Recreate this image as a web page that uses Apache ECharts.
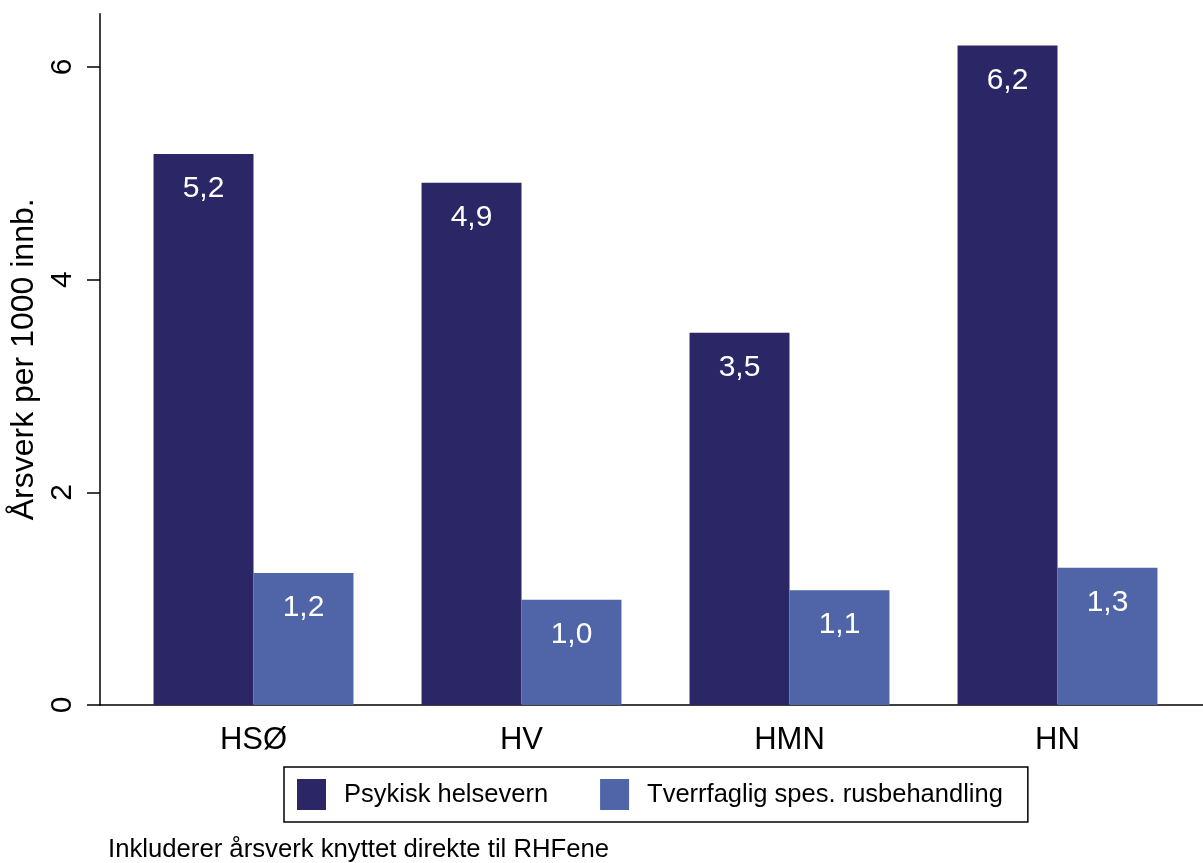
<!DOCTYPE html>
<html>
<head>
<meta charset="utf-8">
<script src="https://cdn.jsdelivr.net/npm/echarts@6/dist/echarts.min.js"></script>
<style>
html,body{margin:0;padding:0;background:#fff;}
#chart{width:1203px;height:863px;}
</style>
</head>
<body>
<div id="chart"></div>
<script>
const categories = ['HSØ', 'HV', 'HMN', 'HN'];
const seriesNames = ['Psykisk helsevern', 'Tverrfaglig spes. rusbehandling'];
const psykisk = [5.18, 4.91, 3.5, 6.2];
const rus = [1.24, 0.99, 1.08, 1.29];
const yTicks = [0, 2, 4, 6];
const yName = 'Årsverk per 1000 innb.';
const note = 'Inkluderer årsverk knyttet direkte til RHFene';

const FONT = '"Liberation Sans", Arial, Helvetica, sans-serif';
const dark = '#2b2767';
const light = '#5065a8';
const yMin = 0, yMax = 6.5, yInt = 2;

const chart = echarts.init(document.getElementById('chart'), null, {renderer: 'canvas'});
const fmt = p => p.value.toFixed(1).replace('.', ',');
const label = {show: true, position: 'insideTop', distance: 20, color: '#fff', fontSize: 30, fontFamily: FONT};

chart.setOption({
  backgroundColor: '#fff',
  animation: false,
  textStyle: {fontFamily: FONT},
  title: {
    text: note, left: 108, top: 837,
    textStyle: {fontSize: 25.7, fontWeight: 'normal', color: '#000', fontFamily: FONT},
    padding: 0
  },
  legend: {
    data: seriesNames,
    left: 284, top: 767,
    padding: [12, 25, 12, 13],
    itemWidth: 29, itemHeight: 31, itemGap: 52,
    borderColor: '#000', borderWidth: 1.5,
    icon: 'rect',
    textStyle: {fontSize: 25.5, color: '#000', fontFamily: FONT, padding: [0, 0, 0, 13]}
  },
  grid: [
    {left: 100, right: 0, top: 13.7, bottom: 158, outerBoundsMode: 'none', containLabel: false},
    {left: 119.5, right: 11.5, top: 13.7, bottom: 158, outerBoundsMode: 'none', containLabel: false}
  ],
  xAxis: [
    {gridIndex: 0, type: 'value', min: 0, max: 1,
     axisLine: {show: true, onZero: false, lineStyle: {color: '#000', width: 1.5}},
     axisTick: {show: false}, axisLabel: {show: false}, splitLine: {show: false}},
    {gridIndex: 1, type: 'category', data: categories,
     axisLine: {show: false}, axisTick: {show: false},
     axisLabel: {margin: 20, fontSize: 31, color: '#000', fontFamily: FONT}}
  ],
  yAxis: [
    {gridIndex: 0, type: 'value', min: yMin, max: yMax, interval: yInt,
     name: yName, nameLocation: 'middle', nameGap: 52, nameRotate: 90,
     nameTextStyle: {fontSize: 32, color: '#000', fontFamily: FONT},
     axisLine: {show: true, onZero: false, lineStyle: {color: '#000', width: 1.5}},
     axisTick: {show: true, length: 13, customValues: yTicks, lineStyle: {color: '#000', width: 1.5}},
     axisLabel: {rotate: 90, margin: 22, fontSize: 30, color: '#000', fontFamily: FONT, customValues: yTicks},
     splitLine: {show: false}},
    {gridIndex: 1, type: 'value', min: yMin, max: yMax, interval: yInt, show: false}
  ],
  series: [
    {name: seriesNames[0], type: 'bar', xAxisIndex: 1, yAxisIndex: 1, data: psykisk,
     barGap: '0%', barCategoryGap: '25.4%', itemStyle: {color: dark}, label: Object.assign({formatter: fmt}, label)},
    {name: seriesNames[1], type: 'bar', xAxisIndex: 1, yAxisIndex: 1, data: rus,
     barGap: '0%', barCategoryGap: '25.4%', itemStyle: {color: light}, label: Object.assign({formatter: fmt}, label)}
  ]
});
</script>
</body>
</html>
